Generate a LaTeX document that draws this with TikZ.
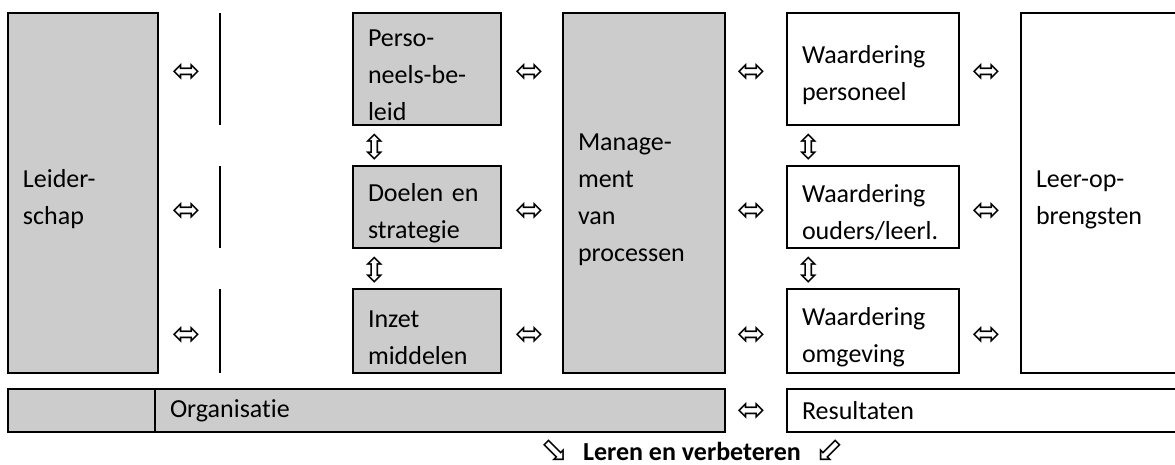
\documentclass[tikz,border=0pt]{standalone}
\usepackage{fontspec}
\setmainfont[Ligatures=NoCommon]{Carlito}
\newfontfamily\arrowfont{DejaVu Sans}
\usetikzlibrary{positioning}
\definecolor{cellgrey}{RGB}{204,204,204}

\begin{document}
\begin{tikzpicture}[x=1pt, y=-1pt]
 \useasboundingbox (0,0) rectangle (1175,464);
 \tikzstyle{cell} = [draw, line width=2pt, outer sep=0pt, inner xsep=15pt, inner ysep=0pt, align=left, font=\fontsize{26}{37}\selectfont];
 \tikzstyle{grey} = [cell, fill=cellgrey];
 \tikzstyle{low} = [execute at begin node={\rule{0pt}{30pt}}];
 \tikzstyle{arr} = [inner sep=0pt, font=\arrowfont\fontsize{34}{34}\selectfont];

 \node (lead) [grey, low, anchor=north west, text width=120pt, minimum height=360pt] at (8,13) {Leider-\\schap};
 \node (pers) [grey, low, text width=118pt, minimum height=112pt, below right=0pt and 195pt of lead.north east] {Perso-\\neels-be-\\leid};
 \node (doel) [grey, low, text width=118pt, minimum height=82pt, below=41pt of pers] {Doelen en\\strategie};
 \node (inzet) [grey, low, text width=118pt, minimum height=84pt, below=41pt of doel] {Inzet\\middelen};
 \node (mgmt) [grey, low, text width=132pt, minimum height=360pt, below right=0pt and 62pt of pers.north east] {Manage-\\ment\\van\\processen};
 \node (wpers) [cell, low, text width=142pt, minimum height=112pt, below right=0pt and 62pt of mgmt.north east] {Waardering\\personeel};
 \node (wouders) [cell, low, text width=142pt, minimum height=82pt, below=41pt of wpers] {Waardering\\ouders/leerl.};
 \node (womg) [cell, low, text width=142pt, minimum height=84pt, below=41pt of wouders] {Waardering\\omgeving};
 \node (leer) [cell, low, text width=126pt, minimum height=360pt, below right=0pt and 62pt of wpers.north east] {Leer-op-\\brengsten};

 \node (orgleft) [grey, text width=117pt, minimum height=43pt, below right=16pt and 0pt of lead.south west] {};
 \node (org) [grey, text width=540pt, minimum height=43pt, right=0pt of orgleft] {Organisatie};
 \node (res) [cell, text width=360pt, minimum height=43pt, below right=16pt and 0pt of womg.south west] {Resultaten};

 \coordinate (gap) at (220,0);
 \draw [line width=2pt] (pers.north west -| gap) -- (pers.south west -| gap);
 \draw [line width=2pt] (doel.north west -| gap) -- (doel.south west -| gap);
 \draw [line width=2pt] (inzet.north west -| gap) -- (inzet.south west -| gap);

 \node (lp1) [arr] at (187,73) {⬄};
 \node (lp2) [arr] at (187,212) {⬄};
 \node (lp3) [arr] at (187,336) {⬄};
 \node (pm1) [arr] at (530,73) {⬄};
 \node (pm2) [arr] at (530,212) {⬄};
 \node (pm3) [arr] at (530,336) {⬄};
 \node (mw1) [arr] at (752,73) {⬄};
 \node (mw2) [arr] at (752,212) {⬄};
 \node (mw3) [arr] at (752,336) {⬄};
 \node (orgres) [arr] at (752,412) {⬄};
 \node (wl1) [arr] at (987,73) {⬄};
 \node (wl2) [arr] at (987,212) {⬄};
 \node (wl3) [arr] at (987,336) {⬄};
 \node (pd) [arr] at (375,147) {⇳};
 \node (di) [arr] at (375,270) {⇳};
 \node (wpwo) [arr] at (809,147) {⇳};
 \node (wowo) [arr] at (809,270) {⇳};

 \node (leren) [inner sep=0pt, font=\fontsize{26}{37}\selectfont\bfseries] at (692,451) {Leren en verbeteren};
 \node (sw) [arr, left=14pt of leren] {⬂};
 \node (se) [arr, right=14pt of leren] {⬃};
\end{tikzpicture}
\end{document}
